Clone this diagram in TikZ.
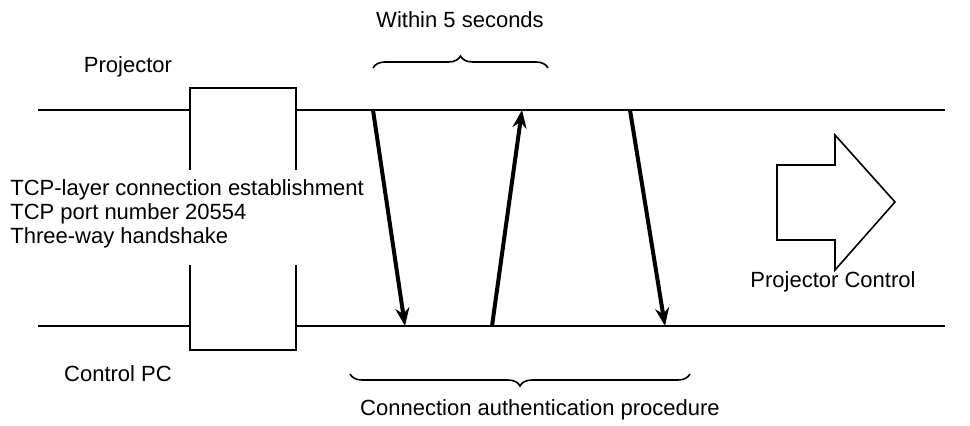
\documentclass[tikz,border=0pt]{standalone}
\usepackage{fontspec}
\setmainfont{Liberation Sans}
\usetikzlibrary{arrows.meta,decorations.pathreplacing}
\tikzset{
  lbl/.style={font=\fontsize{11}{13}\selectfont, inner sep=0pt},
  msg/.style={line width=2pt, -{Stealth[length=9pt,width=7pt]}},
  brc/.style={decorate, decoration={brace, amplitude=6pt}, line width=0.8pt}
}
\begin{document}
\begin{tikzpicture}[x=0.5pt, y=-0.5pt]
    \useasboundingbox (0,0) rectangle (970,426);
    % time lines
    \coordinate (pl) at (38,110);  \coordinate (pr) at (945,110);
    \coordinate (cl) at (38,326);  \coordinate (cr) at (945,326);
    \draw[line width=1pt] (pl) -- (pr);
    \draw[line width=1pt] (cl) -- (cr);
    \node[lbl] (proj) at (128,67) {Projector};
    \node[lbl] (pc) at (118,374) {Control PC};
    % handshake box
    \fill[white] (190,88) rectangle (296,350);
    \draw[line width=1pt] (190,170) -- (190,88) -- (296,88) -- (296,170);
    \draw[line width=1pt] (190,265) -- (190,350) -- (296,350) -- (296,265);
    \node[lbl, anchor=west] (t1) at (10,190) {TCP-layer connection establishment};
    \node[lbl, anchor=west] (t2) at (10,214) {TCP port number 20554};
    \node[lbl, anchor=west] (t3) at (10,238) {Three-way handshake};
    % authentication messages
    \coordinate (a1) at (373,110); \coordinate (b1) at (405,326);
    \coordinate (b2) at (492,326); \coordinate (a2) at (522,110);
    \coordinate (a3) at (630,110); \coordinate (b3) at (665,326);
    \draw[msg] (a1) -- (b1);
    \draw[msg] (b2) -- (a2);
    \draw[msg] (a3) -- (b3);
    % braces
    \draw[brc] (373,68) -- (548,68);
    \node[lbl] (within) at (460,20) {Within 5 seconds};
    \draw[brc] (690,374) -- (350,374);
    \node[lbl] (auth) at (540,410) {Connection authentication procedure};
    % projector control
    \draw[line width=0.8pt] (777,165) -- (835,165) -- (835,135) -- (895,202)
        -- (835,270) -- (835,240) -- (777,240) -- cycle;
    \node[lbl] (ctltxt) at (833,282) {Projector Control};
\end{tikzpicture}
\end{document}
